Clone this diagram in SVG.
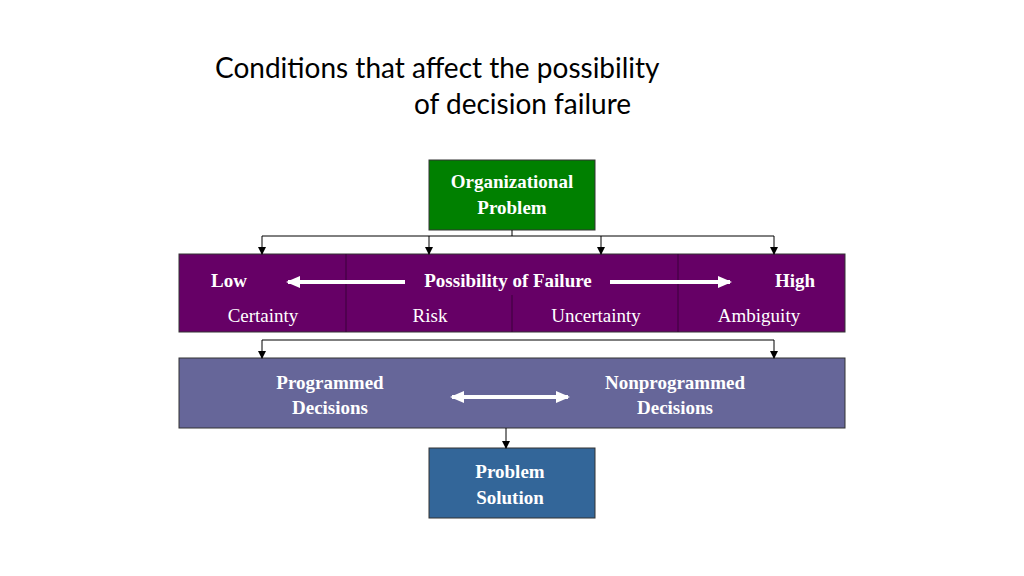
<svg xmlns="http://www.w3.org/2000/svg" width="1024" height="576" viewBox="0 0 1024 576">
<defs>
<marker id="ah" markerWidth="8" markerHeight="8" refX="7" refY="4" orient="auto" markerUnits="userSpaceOnUse"><path d="M0,0 L8,4 L0,8 z" fill="#000"/></marker>
<marker id="wh" markerWidth="14" markerHeight="12" refX="12" refY="6" orient="auto-start-reverse" markerUnits="userSpaceOnUse"><path d="M0,0 L14,6 L0,12 z" fill="#fff"/></marker>
</defs>
<style>
.t{font-family:"Liberation Serif",serif;fill:#fff;font-size:19px;text-anchor:middle}
.b{font-weight:bold}
.box{stroke:#333;stroke-width:1}
.c{stroke:#000;stroke-width:1;fill:none}
.w{stroke:#fff;stroke-width:4;fill:none}
</style>
<rect width="1024" height="576" fill="#fff"/>
<text font-family="Lato,'Open Sans',sans-serif" font-size="28" fill="#000"><tspan x="215" y="78">Conditions that affect the possibility</tspan><tspan x="414" y="114">of decision failure</tspan></text>
<g id="org"><rect class="box" x="429" y="160" width="166" height="70" fill="#008000"/><text class="t b" x="512" y="188">Organizational</text><text class="t b" x="512" y="214">Problem</text></g>
<g id="band"><rect class="box" x="179" y="254" width="666" height="78" fill="#660066"/>
<path d="M346,254V332M512,295V332M678,254V332" stroke="#3a003a" stroke-width="1"/>
<text class="t b" x="229" y="287">Low</text><text class="t b" x="508" y="287">Possibility of Failure</text><text class="t b" x="795" y="287">High</text>
<text class="t" x="263" y="322">Certainty</text><text class="t" x="430" y="322">Risk</text><text class="t" x="596" y="322">Uncertainty</text><text class="t" x="759" y="322">Ambiguity</text>
<path class="w" d="M405,282H288" marker-end="url(#wh)"/><path class="w" d="M610,282H730" marker-end="url(#wh)"/></g>
<g id="dec"><rect class="box" x="179" y="358" width="666" height="70" fill="#666699"/>
<text class="t b" x="330" y="389">Programmed</text><text class="t b" x="330" y="414">Decisions</text>
<text class="t b" x="675" y="389">Nonprogrammed</text><text class="t b" x="675" y="414">Decisions</text>
<path class="w" d="M452,397H568" marker-start="url(#wh)" marker-end="url(#wh)"/></g>
<g id="sol"><rect class="box" x="429" y="448" width="166" height="70" fill="#336699"/><text class="t b" x="510" y="478">Problem</text><text class="t b" x="510" y="504">Solution</text></g>
<g id="connectors">
<path class="c" d="M512,230V236M262,236H774"/>
<path class="c" d="M262,236V254" marker-end="url(#ah)"/><path class="c" d="M429,236V254" marker-end="url(#ah)"/><path class="c" d="M601,236V254" marker-end="url(#ah)"/><path class="c" d="M774,236V254" marker-end="url(#ah)"/>
<path class="c" d="M262,340H774"/>
<path class="c" d="M262,340V358" marker-end="url(#ah)"/><path class="c" d="M774,340V358" marker-end="url(#ah)"/>
<path class="c" d="M506,428V448" marker-end="url(#ah)"/>
</g>
</svg>
